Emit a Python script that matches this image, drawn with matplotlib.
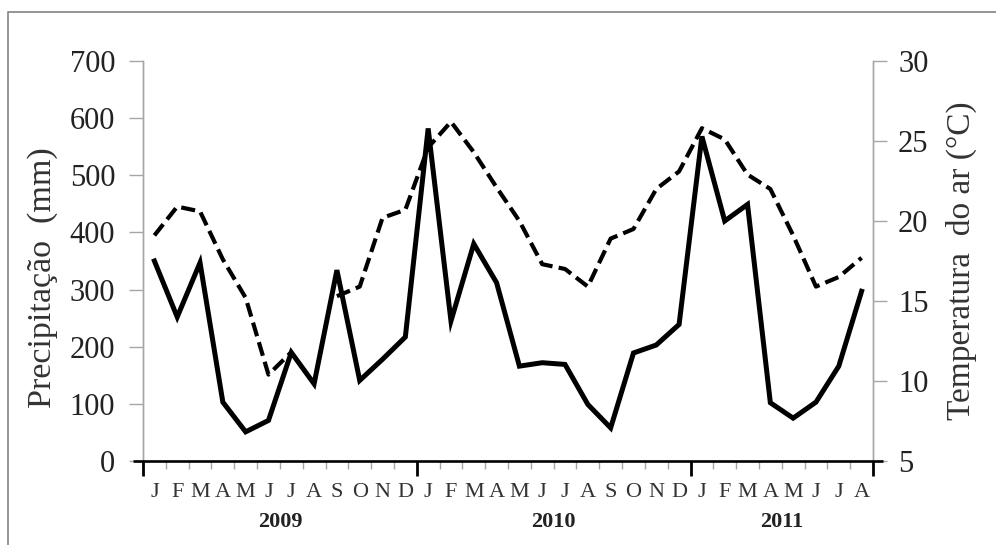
import numpy as np
import matplotlib
matplotlib.use("Agg")
import matplotlib.pyplot as plt
from matplotlib.lines import Line2D

plt.rcParams['font.family'] = ['Liberation Serif', 'DejaVu Serif']

# Monthly series, Jan 2009 - Aug 2011
months = ["J", "F", "M", "A", "M", "J", "J", "A", "S", "O", "N", "D",
          "J", "F", "M", "A", "M", "J", "J", "A", "S", "O", "N", "D",
          "J", "F", "M", "A", "M", "J", "J", "A"]
years = ["2009", "2010", "2011"]
year_lengths = [12, 12, 8]

precip = [350, 252, 347, 103, 51, 71, 190, 135, 334, 141, 178, 217,
          582, 245, 380, 312, 166, 172, 169, 99, 58, 189, 203, 239,
          568, 420, 449, 102, 75, 103, 166, 297]
temp = [19.1, 20.9, 20.6, 17.6, 15.2, 10.4, 11.8, np.nan, 15.3, 15.9, 20.2, 20.7,
        24.6, 26.2, 24.3, 22.1, 20.0, 17.3, 17.0, 15.9, 18.9, 19.5, 22.0, 23.1,
        25.8, 25.1, 22.9, 22.0, 19.1, 15.9, 16.5, 17.7]

precip_ticks = [0, 100, 200, 300, 400, 500, 600, 700]
temp_ticks = [5, 10, 15, 20, 25, 30]

n = len(months)
x = np.arange(n) + 0.5
year_edges = np.concatenate([[0], np.cumsum(year_lengths)])
year_centers = (year_edges[:-1] + year_edges[1:]) / 2
month_edges = [e for e in range(1, n) if e not in year_edges]

W, H = 996, 545
fig = plt.figure(figsize=(W / 100, H / 100), dpi=100)
ax = fig.add_axes([143 / W, 1 - 461 / H, (873 - 143) / W, (461 - 61) / H])
ax2 = ax.twinx()

grey = "#a6a6a6"
txt = "#222222"

# temperature (dashed), right axis
ax2.plot(x, temp, color="black", lw=3.0, linestyle=(0, (3.4, 1.5)),
         dash_capstyle="butt")
ax2.set_ylim(5, 30)
ax2.set_yticks(temp_ticks)
ax2.tick_params(axis="y", direction="out", length=10, width=1, color=grey,
                labelsize=22, labelcolor=txt, pad=8)
ax2.set_ylabel("Temperatura  do ar (°C)", fontsize=24, color="#333333")
ax2.yaxis.set_label_coords(1.100, 0.5)

# precipitation (solid), left axis, drawn on top
ax.set_zorder(ax2.get_zorder() + 1)
ax.patch.set_visible(False)
ax.plot(x, precip, color="black", lw=3.6, solid_joinstyle="miter")
ax.set_ylim(0, 700)
ax.set_xlim(0, n)
ax.set_yticks(precip_ticks)
ax.tick_params(axis="y", direction="out", length=10, width=1, color=grey,
               labelsize=22, labelcolor=txt, pad=10)
ax.set_ylabel("Precipitação  (mm)", fontsize=24.5, color="#333333")
ax.yaxis.set_label_coords(-0.117, 0.4575)

for a in (ax, ax2):
    a.spines["top"].set_visible(False)
    a.spines["bottom"].set_visible(False)
    a.spines["left"].set_color(grey)
    a.spines["right"].set_color(grey)
    a.spines["left"].set_linewidth(1.0)
    a.spines["right"].set_linewidth(1.0)

# x axis: year ticks (major), month ticks (minor)
ax.set_xticks(year_edges)
ax.set_xticklabels([""] * len(year_edges))
ax.set_xticks(month_edges, minor=True)
ax.tick_params(axis="x", which="major", direction="out", length=11, width=2,
               color="black")
ax.tick_params(axis="x", which="minor", direction="out", length=6, width=1,
               color=grey)
ax.plot([-0.0137, 1.0137], [0, 0], transform=ax.transAxes, color="black",
        lw=1.9, clip_on=False, solid_capstyle="butt", zorder=5)

sec_m = ax.secondary_xaxis("bottom")
sec_m.set_xticks(x)
sec_m.set_xticklabels(months)
sec_m.tick_params(axis="x", length=0, labelsize=16, labelcolor="#333333",
                  pad=16)
sec_m.spines["bottom"].set_visible(False)

sec_y = ax.secondary_xaxis("bottom")
sec_y.set_xticks(year_centers)
sec_y.set_xticklabels(years, fontweight="bold")
sec_y.tick_params(axis="x", length=0, labelsize=16, labelcolor="#222222",
                  pad=37)
sec_y.spines["bottom"].set_visible(False)

# outer frame
fig.add_artist(Line2D([8 / W, 8 / W, 1.01], [-0.01, 1 - 12 / H, 1 - 12 / H],
                      transform=fig.transFigure, color="#8c8c8c", lw=1.3))

fig.savefig("out.png", dpi=100, facecolor="white")
